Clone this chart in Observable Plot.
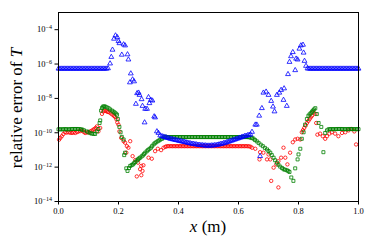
<!DOCTYPE html>
<html>
<head>
<meta charset="utf-8">
<script src="https://cdn.jsdelivr.net/npm/d3@7"></script>
<script src="https://cdn.jsdelivr.net/npm/@observablehq/plot@0.6"></script>
<style>
  html, body { margin: 0; padding: 0; background: #fff; }
  #chart svg { display: block; }
</style>
</head>
<body>
<div id="chart"></div>
<script>
// Values: [x (m), log10(relative error)]
const xTicks = [0, 0.2, 0.4, 0.6, 0.8, 1.0];
const yTicks = [1e-14, 1e-12, 1e-10, 1e-8, 1e-6, 1e-4];

const blueSeries = [
  [0,-6.27],[0.005,-6.27],[0.01,-6.27],[0.015,-6.27],[0.02,-6.27],[0.025,-6.27],[0.03,-6.27],[0.035,-6.27],
  [0.04,-6.27],[0.045,-6.27],[0.05,-6.27],[0.055,-6.27],[0.06,-6.27],[0.065,-6.27],[0.07,-6.27],[0.075,-6.27],
  [0.08,-6.27],[0.085,-6.27],[0.09,-6.27],[0.095,-6.27],[0.1,-6.27],[0.105,-6.27],[0.11,-6.27],[0.115,-6.27],
  [0.12,-6.27],[0.125,-6.27],[0.13,-6.27],[0.135,-6.27],[0.14,-6.27],[0.145,-6.27],[0.15,-6.27],[0.155,-6.27],
  [0.16,-6.27],[0.165,-6.25],
  [0.172,-5.97],[0.176,-5.59],[0.180,-5.17],[0.185,-4.53],[0.190,-4.34],[0.196,-4.44],[0.200,-4.67],[0.203,-4.79],
  [0.211,-5.46],[0.217,-4.86],[0.222,-4.92],[0.230,-5.44],[0.233,-5.74],[0.238,-7.07],[0.241,-6.55],[0.247,-6.90],
  [0.252,-7.01],[0.258,-8.32],[0.262,-7.70],[0.267,-7.67],[0.270,-7.80],[0.277,-8.05],[0.280,-8.44],[0.287,-9.40],
  [0.289,-8.61],[0.295,-8.61],[0.300,-7.93],[0.303,-8.28],[0.308,-8.09],[0.313,-8.13],[0.319,-9.05],[0.322,-9.11],
  [0.328,-9.92],[0.333,-10.01],[0.339,-10.16],
  [0.345,-10.20],[0.35,-10.23],[0.355,-10.26],[0.36,-10.28],[0.365,-10.31],[0.37,-10.33],[0.375,-10.36],
  [0.38,-10.38],[0.385,-10.40],[0.39,-10.42],[0.395,-10.44],[0.40,-10.46],[0.405,-10.48],[0.41,-10.50],
  [0.415,-10.52],[0.42,-10.54],[0.425,-10.56],[0.43,-10.58],[0.435,-10.60],[0.44,-10.62],[0.445,-10.64],
  [0.45,-10.65],[0.455,-10.67],[0.46,-10.68],[0.465,-10.70],[0.47,-10.71],[0.475,-10.72],[0.48,-10.73],
  [0.485,-10.74],[0.49,-10.74],[0.495,-10.75],[0.5,-10.75],[0.505,-10.75],[0.51,-10.74],[0.515,-10.74],
  [0.52,-10.73],[0.525,-10.72],[0.53,-10.70],[0.535,-10.68],[0.54,-10.66],[0.545,-10.64],[0.55,-10.61],
  [0.555,-10.59],[0.56,-10.56],[0.565,-10.53],[0.57,-10.50],[0.575,-10.47],[0.58,-10.44],[0.585,-10.41],
  [0.59,-10.38],[0.595,-10.35],[0.60,-10.32],[0.605,-10.29],[0.61,-10.26],[0.615,-10.23],[0.62,-10.20],
  [0.625,-10.18],[0.63,-10.15],[0.635,-10.13],[0.64,-10.10],
  [0.645,-9.95],[0.656,-9.53],[0.661,-9.53],[0.669,-9.01],[0.672,-11.36],[0.678,-8.57],[0.683,-7.67],[0.692,-7.61],
  [0.700,-7.80],[0.709,-8.15],[0.715,-8.48],[0.720,-8.76],[0.728,-7.80],[0.736,-7.67],[0.742,-7.51],[0.752,-7.42],
  [0.750,-8.09],[0.761,-8.44],[0.765,-6.59],[0.770,-5.88],[0.775,-5.55],[0.781,-5.31],[0.789,-6.36],[0.792,-5.69],
  [0.797,-5.74],[0.803,-5.11],[0.808,-4.92],[0.815,-4.88],[0.817,-5.34],[0.820,-5.82],[0.825,-6.11],[0.830,-6.26],
  [0.835,-6.27],[0.84,-6.27],[0.845,-6.27],[0.85,-6.27],[0.855,-6.27],[0.86,-6.27],[0.865,-6.27],[0.87,-6.27],
  [0.875,-6.27],[0.88,-6.27],[0.885,-6.27],[0.89,-6.27],[0.895,-6.27],[0.9,-6.27],[0.905,-6.27],[0.91,-6.27],
  [0.915,-6.27],[0.92,-6.27],[0.925,-6.27],[0.93,-6.27],[0.935,-6.27],[0.94,-6.27],[0.945,-6.27],[0.95,-6.27],
  [0.955,-6.27],[0.96,-6.27],[0.965,-6.27],[0.97,-6.27],[0.975,-6.27],[0.98,-6.27],[0.985,-6.27],[0.99,-6.27],
  [0.995,-6.27],[1.0,-6.27]
];

const redSeries = [
  [0.002,-10.40],[0.006,-10.30],[0.011,-10.20],[0.016,-10.08],[0.022,-9.97],[0.027,-9.99],[0.033,-9.97],
  [0.039,-10.00],[0.045,-10.01],[0.050,-9.98],[0.056,-10.01],[0.062,-9.96],[0.067,-9.92],[0.073,-9.90],
  [0.078,-9.86],[0.084,-9.95],[0.089,-10.01],[0.095,-9.98],[0.100,-9.97],[0.106,-9.92],[0.111,-9.88],
  [0.116,-9.82],[0.120,-9.78],[0.124,-9.72],[0.128,-9.63],[0.133,-9.92],[0.139,-9.72],
  [0.145,-8.90],[0.149,-8.76],[0.153,-8.71],[0.157,-8.72],[0.161,-8.76],[0.165,-8.79],[0.170,-8.82],
  [0.175,-8.88],[0.180,-8.95],[0.185,-9.02],[0.189,-9.09],[0.193,-9.22],[0.196,-9.40],[0.200,-9.53],[0.203,-9.92],
  [0.209,-10.30],[0.217,-10.49],[0.222,-10.58],[0.228,-10.78],[0.239,-10.49],[0.233,-10.87],[0.226,-11.16],
  [0.247,-11.36],[0.256,-11.59],[0.265,-11.74],[0.276,-11.93],[0.283,-11.89],[0.280,-12.22],[0.272,-12.12],
  [0.261,-12.54],[0.276,-12.47],[0.300,-11.45],[0.311,-11.51],[0.322,-11.07],[0.331,-10.93],[0.342,-11.01],
  [0.350,-10.87],[0.356,-10.82],
  [0.36,-10.79],[0.365,-10.78],[0.37,-10.78],[0.375,-10.78],[0.38,-10.78],[0.385,-10.78],[0.39,-10.78],
  [0.395,-10.78],[0.40,-10.78],[0.405,-10.78],[0.41,-10.78],[0.415,-10.78],[0.42,-10.78],[0.425,-10.78],
  [0.43,-10.78],[0.435,-10.78],[0.44,-10.78],[0.445,-10.78],[0.45,-10.78],[0.455,-10.78],[0.46,-10.78],
  [0.465,-10.78],[0.47,-10.78],[0.475,-10.78],[0.48,-10.78],[0.485,-10.78],[0.49,-10.78],[0.495,-10.78],
  [0.50,-10.78],[0.505,-10.78],[0.51,-10.78],[0.515,-10.78],[0.52,-10.78],[0.525,-10.78],[0.53,-10.78],
  [0.535,-10.78],[0.54,-10.78],[0.545,-10.78],[0.55,-10.78],[0.555,-10.78],[0.56,-10.78],[0.565,-10.78],
  [0.57,-10.78],[0.575,-10.78],[0.58,-10.78],[0.585,-10.78],[0.59,-10.78],[0.595,-10.78],[0.60,-10.78],
  [0.605,-10.78],[0.61,-10.78],[0.615,-10.78],[0.62,-10.78],[0.625,-10.78],[0.63,-10.78],[0.635,-10.79],
  [0.64,-10.81],
  [0.645,-10.87],[0.656,-10.93],[0.672,-11.13],[0.683,-11.16],[0.670,-11.55],[0.695,-11.55],[0.706,-11.55],
  [0.700,-11.26],[0.717,-12.03],[0.726,-11.84],[0.733,-11.65],[0.742,-11.45],[0.750,-10.87],[0.756,-11.45],
  [0.763,-11.84],[0.772,-11.16],[0.709,-12.80],[0.733,-13.18],[0.781,-10.55],[0.789,-10.39],[0.797,-10.35],
  [0.806,-10.39],[0.811,-9.97],[0.815,-9.85],[0.819,-9.72],[0.824,-9.58],[0.828,-9.43],[0.833,-9.31],[0.837,-9.20],
  [0.841,-9.10],[0.845,-9.01],[0.850,-8.82],[0.856,-8.90],
  [0.859,-9.43],[0.863,-10.11],[0.872,-10.05],[0.881,-10.20],[0.889,-10.35],[0.895,-10.20],[0.903,-10.05],
  [0.911,-9.97],[0.922,-10.05],[0.933,-10.20],[0.945,-10.01],[0.956,-9.97],[0.967,-9.86],[0.978,-9.78],
  [0.986,-9.92],[0.992,-10.68]
];

const greenSeries = [
  [0,-9.80],[0.005,-9.80],[0.01,-9.80],[0.015,-9.80],[0.02,-9.79],[0.025,-9.79],[0.03,-9.80],[0.035,-9.80],
  [0.04,-9.79],[0.045,-9.78],[0.05,-9.78],[0.055,-9.78],[0.06,-9.78],[0.065,-9.78],[0.07,-9.79],[0.075,-9.80],
  [0.08,-9.82],[0.085,-9.86],
  [0.095,-9.92],[0.100,-9.97],[0.106,-10.02],[0.111,-10.05],[0.117,-10.06],[0.122,-10.07],[0.128,-9.92],
  [0.133,-9.78],[0.137,-9.43],[0.139,-9.28],[0.142,-8.71],[0.145,-8.56],
  [0.148,-8.48],[0.152,-8.46],[0.156,-8.48],[0.161,-8.52],[0.167,-8.57],[0.172,-8.64],[0.178,-8.71],
  [0.183,-8.77],[0.187,-8.82],[0.191,-8.88],[0.195,-8.95],[0.198,-9.20],[0.203,-9.66],
  [0.207,-9.97],[0.211,-10.24],[0.217,-10.39],[0.222,-11.16],[0.219,-11.30],[0.226,-12.07],[0.230,-12.22],
  [0.235,-12.05],[0.239,-11.93],[0.244,-11.88],[0.248,-11.84],[0.252,-11.77],[0.256,-11.70],[0.261,-11.62],
  [0.265,-11.55],[0.268,-11.50],[0.272,-11.45],[0.277,-11.38],[0.281,-11.32],[0.285,-11.24],[0.289,-11.16],
  [0.294,-11.08],[0.298,-11.01],[0.303,-10.94],[0.308,-10.87],[0.312,-10.78],[0.317,-10.68],[0.321,-10.61],
  [0.326,-10.55],[0.331,-10.49],[0.336,-10.44],[0.340,-10.39],[0.345,-10.35],[0.350,-10.28],[0.356,-10.22],
  [0.36,-10.25],[0.365,-10.25],[0.37,-10.25],[0.375,-10.25],[0.38,-10.25],[0.385,-10.25],[0.39,-10.25],
  [0.395,-10.25],[0.40,-10.25],[0.405,-10.25],[0.41,-10.25],[0.415,-10.25],[0.42,-10.25],[0.425,-10.25],
  [0.43,-10.25],[0.435,-10.25],[0.44,-10.25],[0.445,-10.25],[0.45,-10.25],[0.455,-10.25],[0.46,-10.25],
  [0.465,-10.25],[0.47,-10.25],[0.475,-10.25],[0.48,-10.25],[0.485,-10.25],[0.49,-10.25],[0.495,-10.25],
  [0.50,-10.25],[0.505,-10.25],[0.51,-10.25],[0.515,-10.25],[0.52,-10.25],[0.525,-10.25],[0.53,-10.25],
  [0.535,-10.25],[0.54,-10.25],[0.545,-10.25],[0.55,-10.25],[0.555,-10.25],[0.56,-10.25],[0.565,-10.25],
  [0.57,-10.25],[0.575,-10.25],[0.58,-10.25],[0.585,-10.25],[0.59,-10.25],[0.595,-10.25],[0.60,-10.25],
  [0.605,-10.25],[0.61,-10.25],[0.615,-10.25],[0.62,-10.25],[0.625,-10.25],[0.63,-10.25],[0.635,-10.26],
  [0.64,-10.28],[0.645,-10.31],
  [0.650,-10.34],[0.655,-10.42],[0.661,-10.50],[0.667,-10.59],[0.674,-10.69],[0.681,-10.78],[0.688,-10.88],
  [0.695,-10.97],[0.700,-11.06],[0.706,-11.16],[0.711,-11.30],[0.717,-11.45],[0.722,-11.60],[0.728,-11.74],
  [0.733,-11.86],[0.739,-11.97],[0.745,-12.05],[0.750,-12.12],[0.755,-12.15],[0.761,-12.18],[0.766,-12.23],
  [0.770,-12.28],[0.776,-12.60],[0.783,-12.80],[0.789,-12.07],
  [0.797,-11.55],[0.800,-11.26],[0.806,-10.93],[0.811,-10.35],[0.817,-9.97],[0.822,-9.53],[0.828,-9.20],
  [0.833,-9.01],[0.837,-8.93],[0.841,-8.86],[0.845,-8.78],[0.848,-8.71],[0.852,-8.64],[0.856,-8.57],
  [0.861,-8.91],[0.867,-9.43],[0.876,-9.66],[0.883,-11.13],
  [0.889,-10.01],[0.895,-9.86],
  [0.90,-9.80],[0.905,-9.79],[0.91,-9.79],[0.915,-9.79],[0.92,-9.79],[0.925,-9.79],[0.93,-9.78],[0.935,-9.78],
  [0.94,-9.78],[0.945,-9.78],[0.95,-9.79],[0.955,-9.79],[0.96,-9.79],[0.965,-9.79],[0.97,-9.78],[0.975,-9.78],
  [0.98,-9.79],[0.985,-9.79],[0.99,-9.79],[0.995,-9.79],[1.0,-9.79]
];

const serif = "'Liberation Serif', 'DejaVu Serif', serif";
const X = d => d[0];
const Y = d => Math.pow(10, d[1]);

const chart = Plot.plot({
  width: 374,
  height: 249,
  marginLeft: 58,
  marginRight: 16,
  marginTop: 12,
  marginBottom: 48,
  style: { fontFamily: serif, fontSize: "8.5px", color: "#000", background: "#fff" },
  x: { domain: [0, 1] },
  y: { type: "log", domain: [1e-14, 1e-3] },
  marks: [
    Plot.dot(redSeries, { x: X, y: Y, symbol: "circle", r: 1.7, fill: "none", stroke: "#ff0000", strokeWidth: 0.8 }),
    Plot.dot(greenSeries, { x: X, y: Y, symbol: "square", r: 1.7, fill: "none", stroke: "#008000", strokeWidth: 0.8 }),
    Plot.dot(blueSeries, { x: X, y: Y, symbol: "triangle", r: 1.8, fill: "none", stroke: "#0000ff", strokeWidth: 0.8 }),
    Plot.frame({ stroke: "#000", strokeWidth: 1 }),
    Plot.axisX({ ticks: xTicks, tickFormat: d => d.toFixed(1), tickSize: 3.5, tickPadding: 3, label: null }),
    Plot.axisY({ ticks: yTicks, tickFormat: d => String(Math.round(Math.log10(d))), tickSize: 3.5, tickPadding: 3, label: null })
  ]
});

const svg = d3.select(chart);
// superscript exponents on the y tick labels
svg.selectAll('g[aria-label="y-axis tick label"] text').each(function () {
  const exp = this.textContent.replace("-", "\u2212");
  const t = d3.select(this);
  t.text(null);
  t.append("tspan").text("10");
  t.append("tspan").attr("dy", "-0.5em").attr("font-size", "6px").text(exp);
});

// axis titles
svg.append("text")
  .attr("x", 208).attr("y", 232)
  .attr("text-anchor", "middle")
  .attr("font-family", serif).attr("font-size", 17).attr("fill", "#000")
  .call(t => {
    t.append("tspan").attr("font-style", "italic").text("x");
    t.append("tspan").text(" (m)");
  });

svg.append("text")
  .attr("transform", "translate(22,108) rotate(-90)")
  .attr("text-anchor", "middle")
  .attr("font-family", serif).attr("font-size", 17).attr("fill", "#000")
  .call(t => {
    t.append("tspan").text("relative error of ");
    t.append("tspan").attr("font-style", "italic").text("T");
  });

document.getElementById("chart").appendChild(chart);
</script>
</body>
</html>
